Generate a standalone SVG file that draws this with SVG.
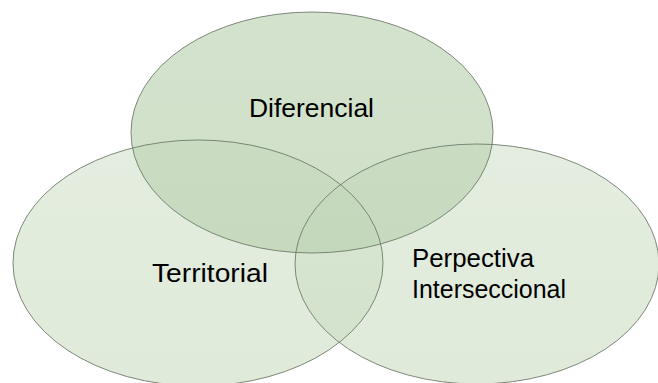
<svg xmlns="http://www.w3.org/2000/svg" width="658" height="383" viewBox="0 0 658 383">
<style>
.o{fill:none;stroke:#707c6b;stroke-width:1;stroke-opacity:0.9}
.t{font-family:"Liberation Sans",Arial,sans-serif;font-size:25.5px;fill:#000}
</style>
<defs>
<linearGradient id="gTop" x1="0" y1="0" x2="0" y2="1">
<stop offset="0" stop-color="#c3d8ba"/>
<stop offset="1" stop-color="#bdd3b3"/>
</linearGradient>
<linearGradient id="gSide" x1="0" y1="0" x2="0" y2="1">
<stop offset="0" stop-color="#d2e2cb"/>
<stop offset="1" stop-color="#cadcc2"/>
</linearGradient>
</defs>
<rect width="658" height="383" fill="#ffffff"/>
<g id="node-territorial">
<ellipse cx="198" cy="263" rx="185" ry="123" fill="url(#gSide)" fill-opacity="0.6"/>
<text class="t" x="152" y="282" textLength="116" lengthAdjust="spacingAndGlyphs">Territorial</text>
</g>
<g id="node-interseccional">
<ellipse cx="477" cy="264" rx="182" ry="120" fill="url(#gSide)" fill-opacity="0.6"/>
<text class="t" x="412" y="267" textLength="122" lengthAdjust="spacingAndGlyphs">Perpectiva</text>
<text class="t" x="412" y="298" textLength="154" lengthAdjust="spacingAndGlyphs">Interseccional</text>
</g>
<g id="node-diferencial">
<ellipse cx="312" cy="132.5" rx="181" ry="120.5" fill="url(#gTop)" fill-opacity="0.73"/>
<text class="t" x="249" y="117" textLength="125" lengthAdjust="spacingAndGlyphs">Diferencial</text>
</g>
<g id="connectors">
<ellipse class="o" cx="198" cy="263" rx="185" ry="123"/>
<ellipse class="o" cx="477" cy="264" rx="182" ry="120"/>
<ellipse class="o" cx="312" cy="132.5" rx="181" ry="120.5"/>
</g>
</svg>
